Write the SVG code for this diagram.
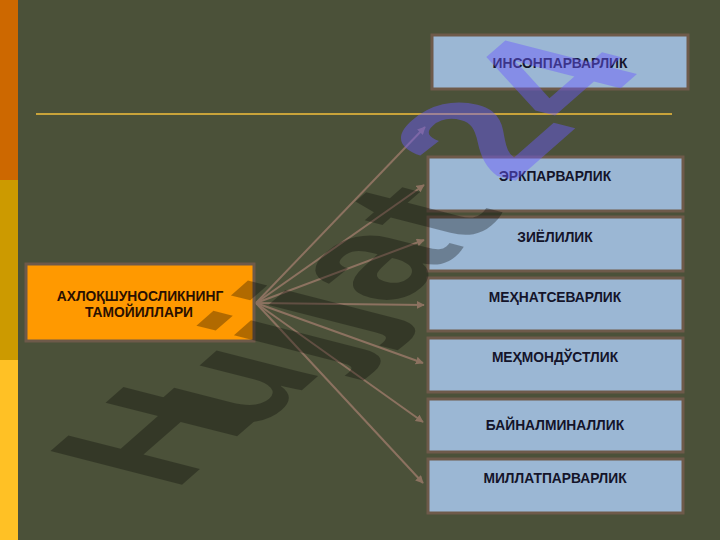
<svg xmlns="http://www.w3.org/2000/svg" width="720" height="540" viewBox="0 0 720 540">
<defs>
<style>
.box{fill:#9BB7D4;stroke:#6E5A4A;stroke-width:3}
.lbl{font-family:"Liberation Sans",Arial,sans-serif;font-weight:bold;font-size:13.8px;fill:#14142A;text-anchor:middle}
.root{fill:#2A1000}
.con{stroke:#8C7260;stroke-width:2;fill:none;marker-end:url(#ah)}
.wm{font-family:"Liberation Sans",Arial,sans-serif;font-weight:bold;font-size:100px}
</style>
<marker id="ah" viewBox="0 0 10 10" refX="9" refY="5" markerWidth="4" markerHeight="4" orient="auto" markerUnits="strokeWidth">
<path d="M0,0 L10,5 L0,10 z" fill="#8C7260"/>
</marker>
</defs>
<rect x="0" y="0" width="720" height="540" fill="#4B5139"/>
<rect x="0" y="0" width="18" height="180" fill="#CD6800"/>
<rect x="0" y="180" width="18" height="180" fill="#CC9A00"/>
<rect x="0" y="360" width="18" height="180" fill="#FFC125"/>
<line x1="36" y1="114" x2="672" y2="114" stroke="#C9A33A" stroke-width="2"/>

<g id="connectors">
<line class="con" x1="256" y1="303" x2="425" y2="127"/>
<line class="con" x1="256" y1="303" x2="424" y2="185"/>
<line class="con" x1="256" y1="303" x2="424" y2="240"/>
<line class="con" x1="256" y1="303" x2="424" y2="305"/>
<line class="con" x1="256" y1="303" x2="423" y2="363"/>
<line class="con" x1="256" y1="303" x2="423" y2="422"/>
<line class="con" x1="256" y1="303" x2="423" y2="483"/>
</g>

<g id="root">
<rect x="26" y="264" width="228" height="77" fill="#FF9900" stroke="#6E5A4A" stroke-width="3"/>
<text class="lbl root" x="140" y="301">АХЛОҚШУНОСЛИКНИНГ</text>
<text class="lbl root" x="139" y="317">ТАМОЙИЛЛАРИ</text>
</g>
<g id="n0"><rect class="box" x="432" y="35" width="256" height="54"/><text class="lbl" x="560" y="68">ИНСОНПАРВАРЛИК</text></g>
<g id="n1"><rect class="box" x="428" y="157" width="255" height="54"/><text class="lbl" x="555" y="181">ЭРКПАРВАРЛИК</text></g>
<g id="n2"><rect class="box" x="428" y="217" width="255" height="54"/><text class="lbl" x="555" y="242">ЗИЁЛИЛИК</text></g>
<g id="n3"><rect class="box" x="428" y="278" width="255" height="53"/><text class="lbl" x="555" y="302">МЕҲНАТСЕВАРЛИК</text></g>
<g id="n4"><rect class="box" x="428" y="338" width="255" height="54"/><text class="lbl" x="555" y="362">МЕҲМОНДЎСТЛИК</text></g>
<g id="n5"><rect class="box" x="428" y="399" width="255" height="53"/><text class="lbl" x="555" y="430">БАЙНАЛМИНАЛЛИК</text></g>
<g id="n6"><rect class="box" x="428" y="459" width="255" height="54"/><text class="lbl" x="555" y="483">МИЛЛАТПАРВАРЛИК</text></g>

<g id="watermark">
<g opacity="0.3">
<text class="wm" x="18" y="-5" fill="#000" transform="matrix(1.24 -1.09 1.913 0.489 161 514)">H<tspan dx="-18" dy="5">ujjat</tspan></text>
</g>
<text class="wm" x="297.8" y="-10" fill="#6A5CFF" fill-opacity="0.45" transform="matrix(1.24 -1.09 1.913 0.489 161 514)">24</text>
</g>
</svg>
